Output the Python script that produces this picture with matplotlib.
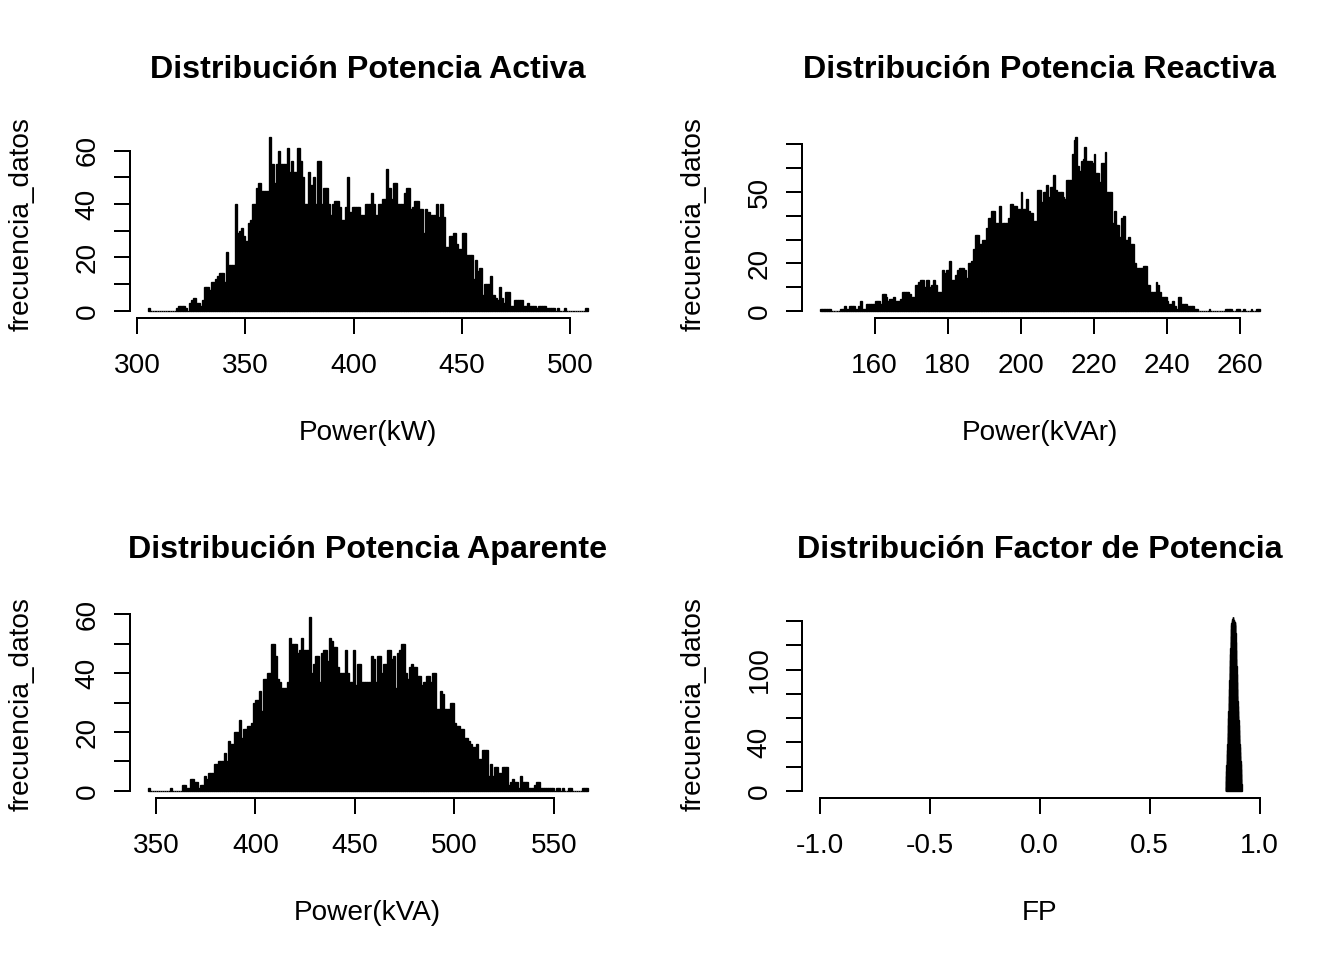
import numpy as np
import matplotlib.pyplot as plt

plt.rcParams['font.family'] = ['Liberation Sans', 'DejaVu Sans']

# Potencia activa: clases de 1 kW desde 305
activa_inicio, activa_ancho = 305, 1
activa_frec = [1, 0, 0, 0, 0, 0, 0, 0, 0, 0, 0, 0, 0,
               1, 2, 2, 2, 1, 0, 3, 4, 5, 3, 3, 2,
               4, 9, 9, 8, 11, 11, 12, 13, 14, 14,
               11, 22, 17, 17, 17, 40, 29, 30, 31, 28,
               26, 33, 34, 40, 40, 46, 48, 45, 45, 45,
               45, 65, 55, 48, 55, 60, 55, 55, 55, 61,
               52, 56, 52, 52, 61, 56, 50, 40, 40, 52,
               47, 50, 40, 56, 56, 40, 46, 46, 40, 36,
               40, 41, 41, 39, 34, 34, 39, 50, 37, 39,
               39, 39, 39, 36, 36, 40, 40, 40, 44, 40,
               36, 40, 40, 42, 42, 53, 46, 42, 48, 48,
               40, 40, 40, 44, 46, 46, 38, 39, 41, 41,
               38, 38, 29, 38, 37, 36, 36, 36, 40, 35,
               40, 35, 24, 24, 28, 28, 29, 25, 23, 23,
               29, 29, 21, 21, 21, 12, 19, 15, 16, 6,
               10, 10, 10, 13, 6, 5, 4, 9, 5, 3,
               7, 7, 2, 2, 4, 4, 4, 4, 2, 2,
               3, 2, 2, 2, 1, 2, 2, 2, 2, 1,
               1, 1, 1, 0, 1, 0, 0, 1, 0, 0,
               0, 0, 0, 0, 0, 0, 0, 1]

# Potencia reactiva: clases de 0.5 kVAr desde 145
reactiva_inicio, reactiva_ancho = 145, 0.5
reactiva_frec = [1, 1, 1, 1, 1, 1, 0, 0, 0, 0,
                 0, 1, 1, 2, 1, 1, 2, 2, 2, 1,
                 1, 2, 4, 1, 1, 3, 3, 3, 3, 3,
                 4, 4, 4, 3, 7, 7, 6, 4, 5, 5,
                 6, 4, 4, 4, 5, 8, 8, 8, 8, 7,
                 6, 6, 11, 11, 12, 13, 13, 10, 13, 13,
                 10, 11, 13, 11, 8, 8, 8, 17, 16, 17,
                 17, 21, 13, 13, 15, 17, 18, 18, 18, 17,
                 14, 20, 20, 21, 26, 32, 32, 28, 28, 30,
                 30, 35, 39, 39, 42, 42, 37, 37, 44, 36,
                 37, 37, 37, 39, 45, 45, 44, 44, 43, 43,
                 50, 43, 43, 47, 42, 41, 41, 38, 38, 51,
                 51, 46, 50, 50, 53, 48, 52, 52, 57, 51,
                 50, 50, 50, 48, 47, 55, 55, 55, 66, 72,
                 73, 61, 59, 63, 64, 69, 63, 63, 63, 62,
                 66, 58, 58, 54, 62, 62, 67, 50, 50, 50,
                 37, 42, 36, 36, 31, 39, 40, 30, 30, 31,
                 28, 28, 20, 18, 18, 18, 18, 19, 19, 11,
                 11, 8, 8, 8, 12, 11, 8, 6, 6, 6,
                 4, 3, 3, 4, 2, 1, 6, 6, 3, 3,
                 3, 2, 2, 2, 2, 1, 1, 0, 0, 0,
                 0, 0, 0, 1, 0, 0, 0, 0, 0, 0,
                 0, 0, 1, 1, 1, 1, 0, 0, 1, 1,
                 0, 0, 1, 0, 0, 0, 1, 0, 0, 1, 1]

# Potencia aparente: clases de 1 kVA desde 346
aparente_inicio, aparente_ancho = 346, 1
aparente_frec = [1, 0, 0, 0, 0, 0, 0, 0, 0, 0,
                 0, 1, 0, 0, 0, 0, 0, 2, 2, 1,
                 1, 4, 4, 3, 3, 1, 2, 2, 5, 4,
                 6, 6, 6, 9, 9, 10, 10, 10, 13, 10,
                 17, 16, 16, 20, 20, 20, 24, 18, 21, 21,
                 22, 22, 23, 30, 31, 31, 34, 27, 38, 38,
                 40, 40, 50, 50, 46, 38, 37, 35, 35, 35,
                 37, 52, 50, 50, 50, 47, 48, 52, 48, 48,
                 48, 59, 40, 43, 46, 46, 37, 47, 48, 48,
                 44, 52, 51, 49, 49, 42, 40, 40, 40, 48,
                 40, 37, 37, 48, 36, 43, 43, 37, 37, 37,
                 37, 37, 46, 45, 37, 46, 46, 40, 43, 43,
                 48, 48, 45, 46, 35, 47, 48, 50, 50, 40,
                 38, 42, 43, 42, 42, 39, 39, 36, 37, 37,
                 39, 39, 37, 40, 40, 28, 28, 34, 33, 28,
                 28, 28, 30, 30, 23, 22, 22, 21, 21, 18,
                 18, 17, 16, 15, 15, 16, 11, 11, 14, 14,
                 14, 5, 9, 5, 8, 8, 6, 6, 8, 8,
                 8, 2, 3, 4, 3, 3, 1, 5, 3, 3,
                 3, 1, 1, 1, 2, 3, 3, 1, 1, 1,
                 1, 1, 1, 1, 0, 1, 1, 0, 1, 0,
                 0, 1, 1, 0, 0, 0, 0, 0, 1, 1, 1]

# Factor de potencia: clases de 0.001 desde 0.845
fp_inicio, fp_ancho = 0.845, 0.001
fp_frec = [3, 8, 12, 16, 21, 25, 30, 34, 39, 44,
           48, 54, 60, 66, 72, 78, 84, 91, 97, 103,
           108, 113, 118, 123, 128, 133, 137, 138, 139, 140,
           141, 142, 143, 143, 143, 142, 141, 141, 140, 140,
           139, 139, 138, 137, 137, 130, 123, 116, 109, 103,
           96, 90, 84, 78, 74, 70, 66, 62, 58, 54,
           50, 46, 43, 39, 36, 32, 29, 25, 22, 18,
           14, 10, 6]

# Ejes
activa_xticks = [300, 350, 400, 450, 500]
reactiva_xticks = [160, 180, 200, 220, 240, 260]
aparente_xticks = [350, 400, 450, 500, 550]
fp_xticks = [-1.0, -0.5, 0.0, 0.5, 1.0]
fp_xlabels = ['-1.0', '-0.5', '0.0', '0.5', '1.0']

activa_yticks = [0, 10, 20, 30, 40, 50, 60]
activa_ylabels = ['0', '', '20', '', '40', '', '60']
reactiva_yticks = [0, 10, 20, 30, 40, 50, 60, 70]
reactiva_ylabels = ['0', '', '20', '', '', '50', '', '']
aparente_yticks = [0, 10, 20, 30, 40, 50, 60]
aparente_ylabels = ['0', '', '20', '', '40', '', '60']
fp_yticks = [0, 20, 40, 60, 80, 100, 120, 140]
fp_ylabels = ['0', '', '40', '', '', '100', '', '']

W, H = 1344, 960
LINEA = 31.8  # altura de una linea de margen en pixeles
TAM = 10.5    # tamaño de letra de ejes


def crear_eje(fig, cx, cy):
    # margenes tipo R: c(5.1, 4.1, 4.1, 2.1) lineas
    izq = (cx + 4.1 * LINEA) / W
    abajo = (cy + 5.1 * LINEA) / H
    ancho = (672 - 6.2 * LINEA) / W
    alto = (480 - 9.2 * LINEA) / H
    return fig.add_axes([izq, abajo, ancho, alto])


def histograma(ax, inicio, ancho, frec, titulo, xlab, xticks, xlabels,
               yticks, ylabels, xlim=None):
    frec = np.array(frec)
    bordes = inicio + ancho * np.arange(len(frec) + 1)
    ax.bar(bordes[:-1], frec, width=ancho, align='edge', color='black',
           edgecolor='black', linewidth=0.5)

    if xlim is None:
        xlim = (bordes[0], bordes[-1])
    dx = 0.04 * (xlim[1] - xlim[0])
    ax.set_xlim(xlim[0] - dx, xlim[1] + dx)
    dy = 0.04 * frec.max()
    ax.set_ylim(-dy, frec.max() + dy)

    for lado in ['top', 'right']:
        ax.spines[lado].set_visible(False)
    ax.spines['left'].set_bounds(yticks[0], yticks[-1])
    ax.spines['bottom'].set_bounds(xticks[0], xticks[-1])
    ax.spines['left'].set_linewidth(0.75)
    ax.spines['bottom'].set_linewidth(0.75)

    ax.set_xticks(xticks)
    ax.set_xticklabels(xlabels)
    ax.set_yticks(yticks)
    ax.set_yticklabels(ylabels)
    ax.tick_params(axis='both', direction='out', length=5.96, width=0.75,
                   labelsize=TAM)
    ax.tick_params(axis='x', pad=7.2)
    ax.tick_params(axis='y', pad=5.2, labelrotation=90)
    for lbl in ax.get_yticklabels():
        lbl.set_va('center')

    alto_px = (480 - 9.2 * LINEA)
    ancho_px = (672 - 6.2 * LINEA)
    ax.text(0.5, 1 + 52 / alto_px, titulo, transform=ax.transAxes,
            ha='center', va='baseline', fontsize=12.1, fontweight='bold')
    ax.text(0.5, -122 / alto_px, xlab, transform=ax.transAxes,
            ha='center', va='baseline', fontsize=TAM)
    ax.text(-3.2 * LINEA / ancho_px, 0.5, 'frecuencia_datos',
            transform=ax.transAxes, rotation=90, rotation_mode='anchor',
            ha='center', va='baseline', fontsize=TAM)


fig = plt.figure(figsize=(7, 5), dpi=192)

ax1 = crear_eje(fig, 0, 480)
histograma(ax1, activa_inicio, activa_ancho, activa_frec,
           'Distribución Potencia Activa', 'Power(kW)',
           activa_xticks, [str(t) for t in activa_xticks],
           activa_yticks, activa_ylabels)

ax2 = crear_eje(fig, 672, 480)
histograma(ax2, reactiva_inicio, reactiva_ancho, reactiva_frec,
           'Distribución Potencia Reactiva', 'Power(kVAr)',
           reactiva_xticks, [str(t) for t in reactiva_xticks],
           reactiva_yticks, reactiva_ylabels)

ax3 = crear_eje(fig, 0, 0)
histograma(ax3, aparente_inicio, aparente_ancho, aparente_frec,
           'Distribución Potencia Aparente', 'Power(kVA)',
           aparente_xticks, [str(t) for t in aparente_xticks],
           aparente_yticks, aparente_ylabels)

ax4 = crear_eje(fig, 672, 0)
histograma(ax4, fp_inicio, fp_ancho, fp_frec,
           'Distribución Factor de Potencia', 'FP',
           fp_xticks, fp_xlabels, fp_yticks, fp_ylabels, xlim=(-1, 1))

fig.savefig('out.png', dpi=192)
